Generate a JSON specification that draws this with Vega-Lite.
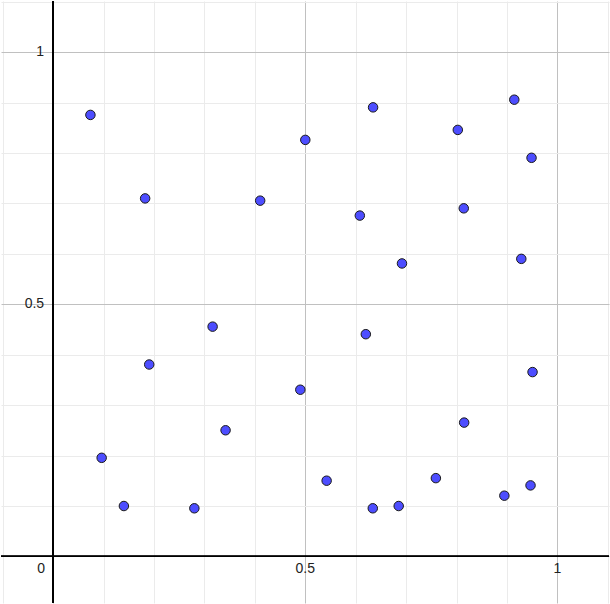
{
  "$schema": "https://vega.github.io/schema/vega-lite/v6.json",
  "width": 610,
  "height": 604,
  "padding": 0,
  "autosize": {"type": "fit", "contains": "padding"},
  "background": "white",
  "config": {"view": {"stroke": null}},
  "layer": [
    {
      "data": {"values": [
        {"x": 0.0739, "y": 0.8755}, {"x": 0.1824, "y": 0.710}, {"x": 0.4105, "y": 0.7055},
        {"x": 0.5, "y": 0.826}, {"x": 0.6344, "y": 0.8905}, {"x": 0.6081, "y": 0.6759},
        {"x": 0.6917, "y": 0.581}, {"x": 0.8024, "y": 0.8458}, {"x": 0.9144, "y": 0.9057},
        {"x": 0.9486, "y": 0.7905}, {"x": 0.8142, "y": 0.6903}, {"x": 0.9283, "y": 0.5901},
        {"x": 0.3162, "y": 0.4557}, {"x": 0.1905, "y": 0.3806}, {"x": 0.620, "y": 0.4407},
        {"x": 0.4901, "y": 0.3306}, {"x": 0.9506, "y": 0.3656}, {"x": 0.0962, "y": 0.1956},
        {"x": 0.3419, "y": 0.2502}, {"x": 0.815, "y": 0.2654}, {"x": 0.1403, "y": 0.100},
        {"x": 0.280, "y": 0.0955}, {"x": 0.5423, "y": 0.1502}, {"x": 0.6338, "y": 0.0955},
        {"x": 0.6852, "y": 0.100}, {"x": 0.7589, "y": 0.1553}, {"x": 0.8947, "y": 0.1205},
        {"x": 0.9466, "y": 0.1409}
      ]},
      "layer": [
        {
          "mark": {"type": "rule", "color": "black", "strokeWidth": 1},
          "encoding": {"x": {"datum": 0}}
        },
        {
          "mark": {"type": "rule", "color": "black", "strokeWidth": 1},
          "encoding": {"y": {"datum": 0}}
        },
        {
          "mark": {"type": "point", "filled": true, "fill": "#4d4dff", "stroke": "#1a1a1a", "strokeWidth": 1, "size": 90, "opacity": 1, "shape": "circle"},
          "encoding": {
            "x": {"field": "x", "type": "quantitative",
              "scale": {"domain": [-0.1034, 1.1022], "nice": false, "zero": false},
              "axis": {"title": null, "labels": false, "ticks": false, "domain": false,
                "values": [-0.1, 0, 0.1, 0.2, 0.3, 0.4, 0.5, 0.6, 0.7, 0.8, 0.9, 1, 1.1],
                "grid": true,
                "gridColor": {"condition": {"test": "abs(round(datum.value*10)) % 5 === 0", "value": "#c0c0c0"}, "value": "#ebebeb"},
                "gridWidth": 1, "gridOpacity": 1}},
            "y": {"field": "y", "type": "quantitative",
              "scale": {"domain": [-0.0923, 1.1014], "nice": false, "zero": false},
              "axis": {"title": null, "labels": false, "ticks": false, "domain": false,
                "values": [-0.1, 0, 0.1, 0.2, 0.3, 0.4, 0.5, 0.6, 0.7, 0.8, 0.9, 1, 1.1],
                "grid": true,
                "gridColor": {"condition": {"test": "abs(round(datum.value*10)) % 5 === 0", "value": "#c0c0c0"}, "value": "#ebebeb"},
                "gridWidth": 1, "gridOpacity": 1}}
          }
        }
      ]
    },
    {
      "data": {"values": [{"v": 0.5, "t": "0.5"}, {"v": 1, "t": "1"}]},
      "mark": {"type": "text", "font": "Liberation Sans", "fontSize": 14, "color": "#222", "baseline": "middle", "align": "center", "dy": 13},
      "encoding": {"x": {"field": "v", "type": "quantitative"}, "y": {"datum": 0}, "text": {"field": "t"}}
    },
    {
      "data": {"values": [{"v": 0.5, "t": "0.5"}, {"v": 1, "t": "1"}]},
      "mark": {"type": "text", "font": "Liberation Sans", "fontSize": 14, "color": "#222", "baseline": "middle", "align": "right", "dx": -9},
      "encoding": {"y": {"field": "v", "type": "quantitative"}, "x": {"datum": 0}, "text": {"field": "t"}}
    },
    {
      "data": {"values": [{"t": "0"}]},
      "mark": {"type": "text", "font": "Liberation Sans", "fontSize": 14, "color": "#222", "baseline": "middle", "align": "right", "dx": -8, "dy": 13},
      "encoding": {"x": {"datum": 0}, "y": {"datum": 0}, "text": {"field": "t"}}
    }
  ]
}
